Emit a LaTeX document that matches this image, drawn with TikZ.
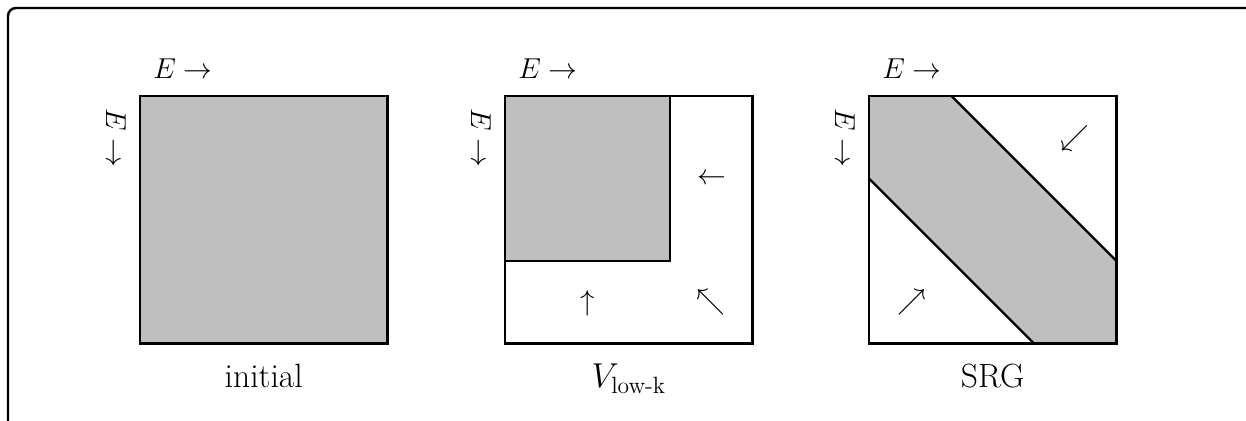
\documentclass[tikz,border=0pt]{standalone}
\usepackage{amsmath}
\begin{document}
\begin{tikzpicture}[x=0.5pt,y=-0.5pt,
  sqline/.style={draw=black, line width=1.2pt},
  shade/.style={fill=gray!50},
  elabel/.style={inner sep=0pt, font=\fontsize{14.4}{17}\selectfont},
  dirarrow/.style={inner sep=0pt, text height=7.2pt, text depth=0pt, font=\fontsize{14.4}{17}\selectfont},
  caption/.style={inner sep=0pt, anchor=base, font=\fontsize{16.8}{20}\selectfont}]
\useasboundingbox (0,0) rectangle (1246,421);
\begin{scope}
  \clip (0,0) rectangle (1246,421);
  \draw[line width=1.2pt, rounded corners=4pt] (8,470) -- (8,8) -- (1300,8);
\end{scope}
% --- square 1: initial
\filldraw[sqline, shade] (140,96) rectangle (387.5,343.5);
% --- square 2: V low-k
\draw[sqline] (505,96) rectangle (752.5,343.5);
\filldraw[sqline, shade] (505,96) rectangle (670,261);
% --- square 3: SRG
\fill[shade] (869,96) -- (951.5,96) -- (1116.5,261) -- (1116.5,343.5) -- (1034,343.5) -- (869,178.5) -- cycle;
\draw[sqline] (951.5,96) -- (1116.5,261);
\draw[sqline] (869,178.5) -- (1034,343.5);
\draw[sqline] (869,96) rectangle (1116.5,343.5);
% --- axis labels
\node[elabel, anchor=base west] (e1h) at (153,79) {$E\rightarrow$};
\node[elabel, anchor=base west, rotate=-90] (e1v) at (106,108) {$E\rightarrow$};
\node[elabel, anchor=base west] (e2h) at (518,79) {$E\rightarrow$};
\node[elabel, anchor=base west, rotate=-90] (e2v) at (471,108) {$E\rightarrow$};
\node[elabel, anchor=base west] (e3h) at (882,79) {$E\rightarrow$};
\node[elabel, anchor=base west, rotate=-90] (e3v) at (835,108) {$E\rightarrow$};
% --- flow arrows
\node[dirarrow] (a2l) at (711.5,177) {$\leftarrow$};
\node[dirarrow] (a2u) at (588,303) {$\uparrow$};
\node[dirarrow] (a2d) at (710.5,302.5) {$\nwarrow$};
\node[dirarrow] (a3u) at (1074.5,138) {$\swarrow$};
\node[dirarrow] (a3l) at (912,302) {$\nearrow$};
% --- captions
\node[caption] (c1) at (263.75,388) {initial};
\node[caption] (c2) at (628.75,388) {$V_{\text{low-k}}$};
\node[caption] (c3) at (992.75,388) {SRG};
\end{tikzpicture}
\end{document}
